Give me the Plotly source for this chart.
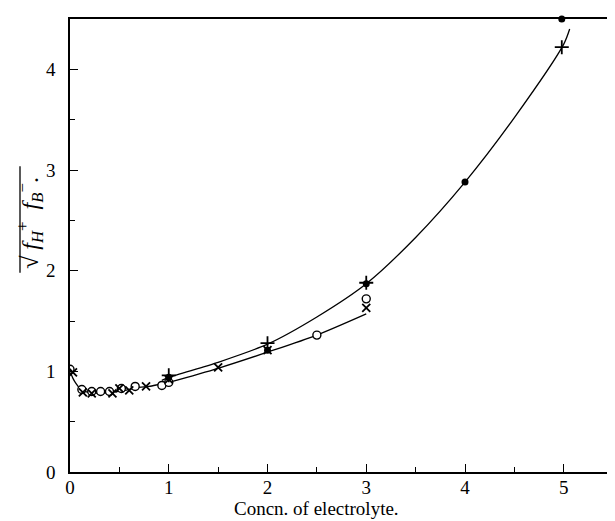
import plotly.graph_objects as go

# Curves
left_x = [0.0, 0.03, 0.06, 0.1, 0.15, 0.2, 0.3, 0.4, 0.5, 0.6, 0.7, 0.8, 0.9, 1.0]
left_y = [1.0, 0.93, 0.88, 0.83, 0.80, 0.79, 0.78, 0.79, 0.80, 0.82, 0.84, 0.85, 0.87, 0.89]

upper_x = [0.93, 1.0, 1.5, 2.0, 2.5, 3.0, 3.5, 4.0, 4.5, 5.0, 5.06]
upper_y = [0.91, 0.94, 1.09, 1.27, 1.54, 1.87, 2.33, 2.88, 3.52, 4.25, 4.40]

lower_x = [1.0, 1.5, 2.0, 2.5, 3.0]
lower_y = [0.89, 1.03, 1.19, 1.36, 1.57]

# Marker series
open_x = [0.0, 0.12, 0.22, 0.31, 0.40, 0.52, 0.66, 0.93, 1.0, 2.5, 3.0]
open_y = [1.02, 0.82, 0.80, 0.80, 0.80, 0.83, 0.85, 0.86, 0.89, 1.36, 1.72]

cross_x = [0.03, 0.13, 0.22, 0.43, 0.50, 0.60, 0.77, 1.0, 1.5, 2.0, 3.0]
cross_y = [0.99, 0.79, 0.78, 0.78, 0.83, 0.81, 0.85, 0.92, 1.04, 1.21, 1.63]

filled_x = [1.0, 2.0, 3.0, 4.0, 4.98]
filled_y = [0.94, 1.21, 1.87, 2.88, 4.50]

plus_x = [1.0, 2.0, 3.0, 4.98]
plus_y = [0.96, 1.28, 1.88, 4.22]

x_ticks = [0, 1, 2, 3, 4, 5]
y_ticks = [0, 1, 2, 3, 4]

FONT = "Liberation Serif"
fig = go.Figure()
line_style = dict(color="black", width=1.3, shape="spline", smoothing=0.8)
for xs, ys in [(left_x, left_y), (upper_x, upper_y), (lower_x, lower_y)]:
    fig.add_trace(go.Scatter(x=xs, y=ys, mode="lines", line=line_style,
                             hoverinfo="skip", showlegend=False))

fig.add_trace(go.Scatter(x=open_x, y=open_y, mode="markers", showlegend=False,
                         marker=dict(symbol="circle", size=8, color="white",
                                     line=dict(color="black", width=1.4))))
fig.add_trace(go.Scatter(x=cross_x, y=cross_y, mode="markers", showlegend=False,
                         marker=dict(symbol="x-thin", size=8, color="black",
                                     line=dict(color="black", width=1.8))))
fig.add_trace(go.Scatter(x=filled_x, y=filled_y, mode="markers", showlegend=False,
                         marker=dict(symbol="circle", size=7, color="black"),
                         cliponaxis=False))
fig.add_trace(go.Scatter(x=plus_x, y=plus_y, mode="markers", showlegend=False,
                         marker=dict(symbol="cross-thin", size=10, color="black",
                                     line=dict(color="black", width=1.8))))

fig.update_layout(
    width=615, height=521,
    margin=dict(l=62, r=0, t=11, b=57),
    paper_bgcolor="white", plot_bgcolor="white",
    font=dict(family=FONT, color="black", size=19),
    xaxis=dict(range=[0, 5.6], tickvals=x_ticks, ticktext=[str(v) for v in x_ticks],
               ticks="inside", ticklen=8, tickwidth=1, tickcolor="black",
               minor=dict(dtick=0.5, ticks="inside", ticklen=5, tickcolor="black"),
               showline=True, linecolor="black", linewidth=1.6, mirror=True,
               showgrid=False, zeroline=False, ticklabelstandoff=-3,
               tickfont=dict(family=FONT, size=19)),
    yaxis=dict(range=[0, 4.5], tickvals=y_ticks, ticktext=[str(v) for v in y_ticks],
               ticks="inside", ticklen=8, tickwidth=1, tickcolor="black",
               minor=dict(dtick=0.5, ticks="inside", ticklen=5, tickcolor="black"),
               showline=True, linecolor="black", linewidth=1.6, mirror=False,
               showgrid=False, zeroline=False, ticklabelstandoff=9,
               tickfont=dict(family=FONT, size=19)),
    annotations=[
        dict(text="Concn. of electrolyte.", xref="paper", yref="paper",
             x=0.445, y=0, yshift=-36, xanchor="center", yanchor="middle",
             showarrow=False, font=dict(family=FONT, size=19)),
        dict(text="√ <i>f</i><sub><i>H</i></sub><sup>+</sup>  "
                  "<i>f</i><sub><i>B</i></sub><sup>−</sup>.",
             xref="paper", yref="paper", x=0, xshift=-40, y=0.55,
             xanchor="center", yanchor="middle", textangle=-90,
             showarrow=False, font=dict(family=FONT, size=24)),
    ],
    shapes=[
        dict(type="line", xref="paper", yref="paper", xsizemode="pixel", xanchor=0,
             x0=-50, x1=-50, y0=0.44, y1=0.675,
             line=dict(color="black", width=1.3)),
    ],
)

fig.write_html("out.html")
